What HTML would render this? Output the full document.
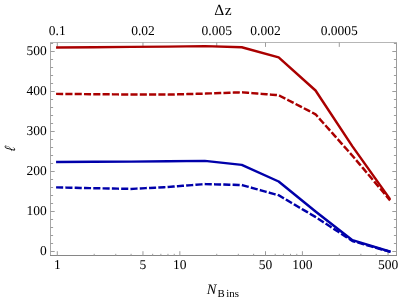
<!DOCTYPE html><html><head><meta charset="utf-8"><style>html,body{margin:0;padding:0;background:#fff}svg{display:block;will-change:transform}text{font-family:"Liberation Serif",serif;fill:#000;text-rendering:geometricPrecision}</style></head><body>
<svg width="416" height="298" viewBox="0 0 416 298">
<rect width="416" height="298" fill="#fff"/>
<g stroke="#a2a2a2" stroke-width="1" fill="none" shape-rendering="auto">
<path d="M50.5 42.0V256.0" stroke="#a8a8a8"/>
<path d="M396.5 42.0V256.0" stroke="#9c9c9c"/>
<path d="M50.0 42.5H397.0" stroke="#b6b6b6"/>
<path d="M50.0 255.5H397.0" stroke="#868686"/>
</g>
<g stroke="#9c9c9c" stroke-width="1" fill="none">
<path d="M50.5 251.50h4.2M396.5 251.50h-4.2"/>
<path d="M50.5 243.50h2.6M396.5 243.50h-2.6"/>
<path d="M50.5 235.50h2.6M396.5 235.50h-2.6"/>
<path d="M50.5 227.50h2.6M396.5 227.50h-2.6"/>
<path d="M50.5 219.50h2.6M396.5 219.50h-2.6"/>
<path d="M50.5 211.50h4.2M396.5 211.50h-4.2"/>
<path d="M50.5 203.50h2.6M396.5 203.50h-2.6"/>
<path d="M50.5 195.50h2.6M396.5 195.50h-2.6"/>
<path d="M50.5 187.50h2.6M396.5 187.50h-2.6"/>
<path d="M50.5 179.50h2.6M396.5 179.50h-2.6"/>
<path d="M50.5 171.50h4.2M396.5 171.50h-4.2"/>
<path d="M50.5 163.50h2.6M396.5 163.50h-2.6"/>
<path d="M50.5 155.50h2.6M396.5 155.50h-2.6"/>
<path d="M50.5 147.50h2.6M396.5 147.50h-2.6"/>
<path d="M50.5 139.50h2.6M396.5 139.50h-2.6"/>
<path d="M50.5 131.50h4.2M396.5 131.50h-4.2"/>
<path d="M50.5 123.50h2.6M396.5 123.50h-2.6"/>
<path d="M50.5 115.50h2.6M396.5 115.50h-2.6"/>
<path d="M50.5 107.50h2.6M396.5 107.50h-2.6"/>
<path d="M50.5 99.50h2.6M396.5 99.50h-2.6"/>
<path d="M50.5 91.50h4.2M396.5 91.50h-4.2"/>
<path d="M50.5 83.50h2.6M396.5 83.50h-2.6"/>
<path d="M50.5 75.50h2.6M396.5 75.50h-2.6"/>
<path d="M50.5 67.50h2.6M396.5 67.50h-2.6"/>
<path d="M50.5 59.50h2.6M396.5 59.50h-2.6"/>
<path d="M50.5 51.50h4.2M396.5 51.50h-4.2"/>
<path d="M50.5 43.50h2.6M396.5 43.50h-2.6"/>
<path d="M57.30 255.5v-4.3"/>
<path d="M94.19 255.5v-1.7"/>
<path d="M115.77 255.5v-1.7"/>
<path d="M131.08 255.5v-1.7"/>
<path d="M142.96 255.5v-4.3"/>
<path d="M152.66 255.5v-1.7"/>
<path d="M160.87 255.5v-1.7"/>
<path d="M167.97 255.5v-1.7"/>
<path d="M174.24 255.5v-1.7"/>
<path d="M179.85 255.5v-4.3"/>
<path d="M216.74 255.5v-1.7"/>
<path d="M238.32 255.5v-1.7"/>
<path d="M253.63 255.5v-1.7"/>
<path d="M265.51 255.5v-4.3"/>
<path d="M275.21 255.5v-1.7"/>
<path d="M283.42 255.5v-1.7"/>
<path d="M290.52 255.5v-1.7"/>
<path d="M296.79 255.5v-1.7"/>
<path d="M302.40 255.5v-4.3"/>
<path d="M339.29 255.5v-1.7"/>
<path d="M360.87 255.5v-1.7"/>
<path d="M376.18 255.5v-1.7"/>
<path d="M388.06 255.5v-4.3"/>
<path d="M57.30 42.5v4.4"/>
<path d="M142.96 42.5v4.4"/>
<path d="M216.74 42.5v4.4"/>
<path d="M265.51 42.5v4.4"/>
<path d="M339.29 42.5v4.4"/>
</g>
<text x="46.8" y="255.30" font-size="13.5" text-anchor="end">0</text>
<text x="46.8" y="215.30" font-size="13.5" text-anchor="end">100</text>
<text x="46.8" y="175.30" font-size="13.5" text-anchor="end">200</text>
<text x="46.8" y="135.30" font-size="13.5" text-anchor="end">300</text>
<text x="46.8" y="95.30" font-size="13.5" text-anchor="end">400</text>
<text x="46.8" y="55.30" font-size="13.5" text-anchor="end">500</text>
<text x="57.30" y="268.6" font-size="13.5" text-anchor="middle">1</text>
<text x="142.96" y="268.6" font-size="13.5" text-anchor="middle">5</text>
<text x="179.85" y="268.6" font-size="13.5" text-anchor="middle">10</text>
<text x="265.51" y="268.6" font-size="13.5" text-anchor="middle">50</text>
<text x="302.40" y="268.6" font-size="13.5" text-anchor="middle">100</text>
<text x="388.06" y="268.6" font-size="13.5" text-anchor="middle">500</text>
<text x="57.30" y="35.2" font-size="13.5" text-anchor="middle">0.1</text>
<text x="142.96" y="35.2" font-size="13.5" text-anchor="middle">0.02</text>
<text x="216.74" y="35.2" font-size="13.5" text-anchor="middle">0.005</text>
<text x="265.51" y="35.2" font-size="13.5" text-anchor="middle">0.002</text>
<text x="339.29" y="35.2" font-size="13.5" text-anchor="middle">0.0005</text>
<text x="223.1" y="14.7" font-size="15.5" text-anchor="middle" letter-spacing="0.4">Δz</text>
<text x="206.8" y="293.6" font-size="14.5"><tspan font-style="italic">N</tspan><tspan font-size="10.8" dy="3.3" dx="0.95">B</tspan><tspan font-size="10.8" dx="1.65">ins</tspan></text>
<text transform="translate(14.6 149.5) rotate(-90) skewX(-9) scale(0.78 1)" font-size="15.5" font-style="italic" text-anchor="middle">ℓ</text>
<polyline points="57.30,47.40 94.19,47.20 131.08,46.90 167.97,46.60 204.86,46.10 241.76,47.20 278.65,57.40 315.54,90.50 352.43,146.40 389.32,198.10" fill="none" stroke="#aa0000" stroke-width="2.45" stroke-linejoin="round" stroke-linecap="square"/>
<polyline points="57.30,93.90 94.19,94.20 131.08,94.50 167.97,94.60 204.86,93.60 241.76,92.30 278.65,95.20 315.54,114.30 352.43,155.70 389.32,199.40" fill="none" stroke="#aa0000" stroke-width="2.45" stroke-linejoin="round" stroke-linecap="square" stroke-dasharray="4.65 4.65"/>
<polyline points="57.30,161.90 94.19,161.80 131.08,161.60 167.97,161.30 204.86,160.90 241.76,164.90 278.65,181.50 315.54,211.50 352.43,240.20 389.32,251.40" fill="none" stroke="#0000aa" stroke-width="2.45" stroke-linejoin="round" stroke-linecap="square"/>
<polyline points="57.30,187.40 94.19,188.20 131.08,188.90 167.97,187.00 204.86,184.10 241.76,185.00 278.65,195.30 315.54,217.00 352.43,241.00 389.32,251.60" fill="none" stroke="#0000aa" stroke-width="2.45" stroke-linejoin="round" stroke-linecap="square" stroke-dasharray="4.65 4.65"/>
</svg></body></html>
